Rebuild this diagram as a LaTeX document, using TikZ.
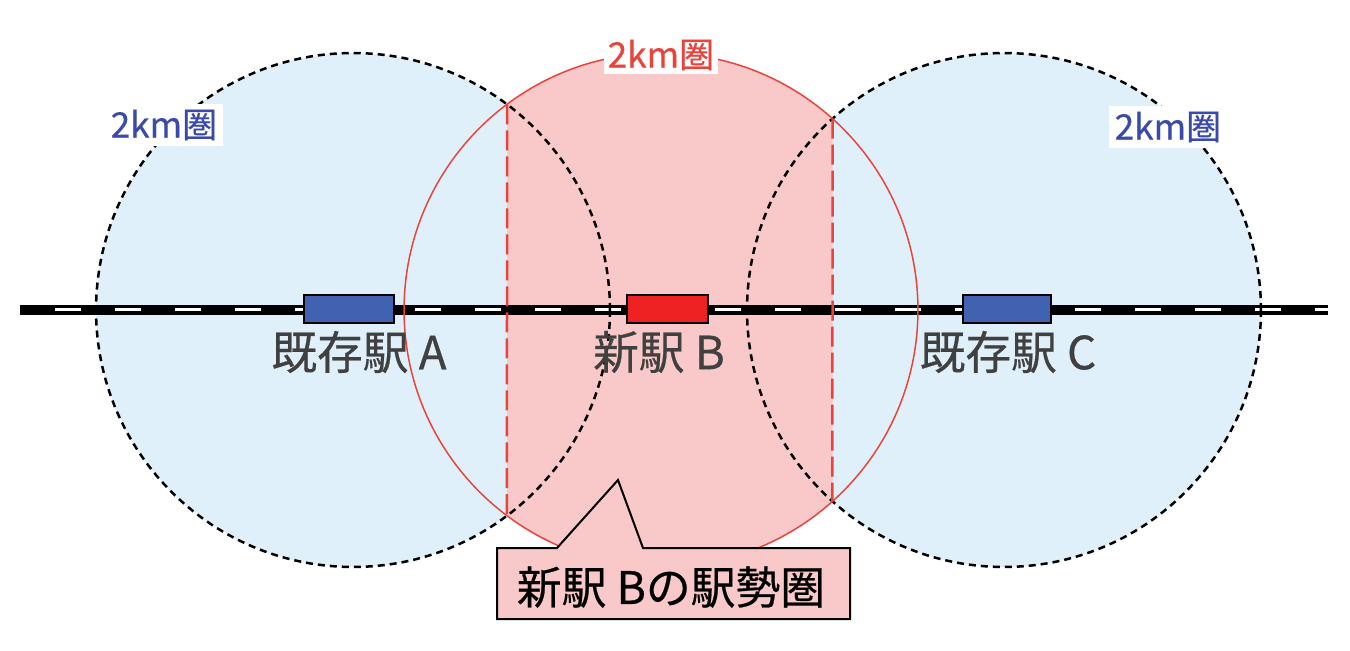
\documentclass[tikz,border=0pt]{standalone}
\usepackage{fontspec}
\setmainfont{Noto Sans CJK JP}[FakeBold=0.5]
\usetikzlibrary{intersections}
\definecolor{areablue}{HTML}{DFF0FA}
\definecolor{areapink}{HTML}{F9C8C8}
\definecolor{ringred}{HTML}{E8443C}
\definecolor{labelblue}{HTML}{3A4AA8}
\definecolor{stationblue}{HTML}{4162B0}
\definecolor{stationred}{HTML}{EE2222}
\definecolor{textgray}{HTML}{404040}

\begin{document}
\begin{tikzpicture}[x=0.02cm, y=0.02cm]
		%%%%% START %%%%%
		\useasboundingbox (0,0) rectangle (1350,650);
		
		\coordinate (sA) at (353,340);
		\coordinate (sB) at (661,340);
		\coordinate (sC) at (1004,340);
		\coordinate (railW) at (20,340);
		\coordinate (railE) at (1328,340);
		\coordinate (dashW) at (55,340);
		
		\fill[color=areablue] (sA) circle (5.14cm);
		\fill[color=areablue] (sC) circle (5.14cm);
		\begin{scope}
			\clip (507,0) rectangle (832.5,650);
			\fill[color=areapink] (sB) circle (5.14cm);
		\end{scope}
		
		\draw[line width=0.22cm] (railW) -- (railE);
		\draw[line width=0.06cm, color=white, dash pattern=on 0.52cm off 0.68cm] (dashW) -- (railE);
		
		\draw[name path=circA, line width=0.05cm, dash pattern=on 0.14cm off 0.1cm] (sA) circle (5.14cm);
		\draw[name path=circC, line width=0.05cm, dash pattern=on 0.14cm off 0.1cm] (sC) circle (5.14cm);
		\draw[name path=circB, line width=0.03cm, color=ringred] (sB) circle (5.14cm);
		
		\path[name intersections={of=circA and circB, by={ab1,ab2}}];
		\path[name intersections={of=circB and circC, by={bc1,bc2}}];
		\draw[line width=0.05cm, color=ringred, dash pattern=on 0.4cm off 0.12cm] (ab1) -- (ab2);
		\draw[line width=0.05cm, color=ringred, dash pattern=on 0.4cm off 0.12cm] (bc1) -- (bc2);
		
		\node[draw, line width=0.04cm, fill=stationblue, minimum width=1.8cm, minimum height=0.56cm] (stA) at (349,341) {};
		\node[draw, line width=0.04cm, fill=stationred, minimum width=1.62cm, minimum height=0.56cm] (stB) at (667.5,341) {};
		\node[draw, line width=0.04cm, fill=stationblue, minimum width=1.78cm, minimum height=0.56cm] (stC) at (1007,341) {};
		
		\node[text=textgray, font=\fontsize{26}{26}\selectfont] (nameA) at (359,298) {既存駅 A};
		\node[text=textgray, font=\fontsize{26}{26}\selectfont] (nameB) at (659,298) {新駅 B};
		\node[text=textgray, font=\fontsize{26}{26}\selectfont] (nameC) at (1008,298) {既存駅 C};
		
		\node[fill=white, inner sep=3pt, text=labelblue, font=\fontsize{20}{20}\selectfont] (kmA) at (164,525) {2km圏};
		\node[fill=white, inner sep=2pt, text=ringred, font=\fontsize{20}{20}\selectfont] (kmB) at (661,595) {2km圏};
		\node[fill=white, inner sep=3pt, text=labelblue, font=\fontsize{20}{20}\selectfont] (kmC) at (1168,523) {2km圏};
		
		\draw[line width=0.04cm, fill=areapink] (557,102) -- (618,170) -- (643,102) -- (850,102) -- (850,31) -- (497,31) -- (497,102) -- cycle;
		\node[font=\fontsize{25.5}{25.5}\selectfont] (callB) at (671,63) {新駅 Bの駅勢圏};
		
		%%%%% END %%%%%
	\end{tikzpicture}
\end{document}
